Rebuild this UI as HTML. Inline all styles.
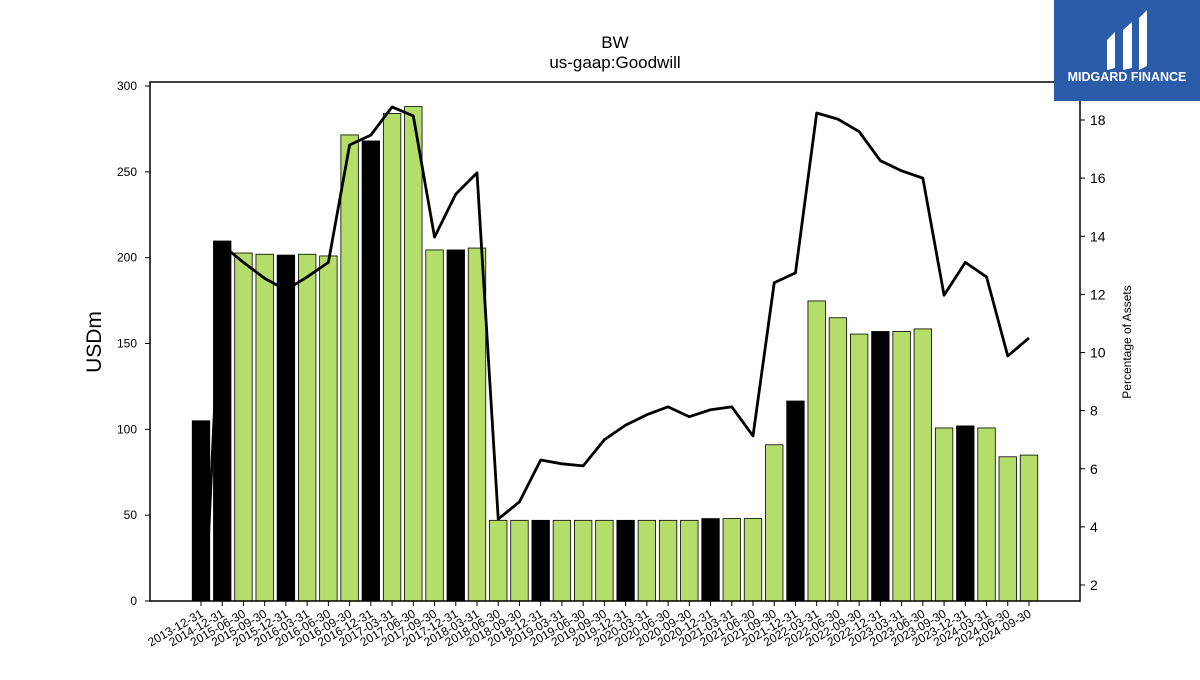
<!DOCTYPE html>
<html><head><meta charset="utf-8"><style>
body{margin:0;background:#fff;}
svg text{font-family:"Liberation Sans","DejaVu Sans",sans-serif;}
</style></head><body>
<svg id="chart" width="1200" height="675" viewBox="0 0 1200 675" xmlns="http://www.w3.org/2000/svg">
<defs><clipPath id="plotclip"><rect x="150" y="82" width="930" height="519"/></clipPath></defs>
<rect width="1200" height="675" fill="#fff"/>
<text x="615" y="48" text-anchor="middle" font-size="17">BW</text>
<text x="615" y="68" text-anchor="middle" font-size="17">us-gaap:Goodwill</text>
<g id="bars"></g>
<g id="line" clip-path="url(#plotclip)"></g>
<rect x="150" y="82" width="930" height="519" fill="none" stroke="#000" stroke-width="1.5"/>
<g id="axes"></g>
<text transform="translate(101,342) rotate(-90)" text-anchor="middle" font-size="21">USDm</text>
<text transform="translate(1131,342) rotate(-90)" text-anchor="middle" font-size="12">Percentage of Assets</text>
<g>
<rect x="1054" y="0" width="146" height="101" fill="#2a5caa"/>
<path d="M1107 40 L1115 32 L1115 68 L1107 70 Z M1123 30 L1132 22 L1132 68 L1123 70 Z M1139 18 L1147 10 L1147 66 L1139 70 Z" fill="#fff"/>
<text x="1127" y="81" text-anchor="middle" font-size="12.5" font-weight="bold" fill="#fff">MIDGARD FINANCE</text>
</g>
</svg>
<script>
const categories=["2013-12-31","2014-12-31","2015-06-30","2015-09-30","2015-12-31","2016-03-31","2016-06-30","2016-09-30","2016-12-31","2017-03-31","2017-06-30","2017-09-30","2017-12-31","2018-03-31","2018-06-30","2018-09-30","2018-12-31","2019-03-31","2019-06-30","2019-09-30","2019-12-31","2020-03-31","2020-06-30","2020-09-30","2020-12-31","2021-03-31","2021-06-30","2021-09-30","2021-12-31","2022-03-31","2022-06-30","2022-09-30","2022-12-31","2023-03-31","2023-06-30","2023-09-30","2023-12-31","2024-03-31","2024-06-30","2024-09-30"];
const goodwill=[105,209.7,202.7,202,201.5,202,201,271.5,268,284,288,204.5,204.5,205.6,47,47,47,47,47,47,47,47,47,47,48,48,48,91,116.5,174.8,165,155.5,157,157,158.5,100.8,102,100.8,84,85];
const pctAssets=[-1.8,13.7,13.1,12.55,12.15,12.6,13.1,17.14,17.48,18.45,18.14,13.97,15.45,16.18,4.27,4.86,6.3,6.17,6.1,7.0,7.5,7.86,8.13,7.79,8.03,8.13,7.13,12.4,12.74,18.24,18.03,17.6,16.6,16.25,16.0,11.97,13.1,12.6,9.88,10.5];
const leftTicks=[0,50,100,150,200,250,300];
const rightTicks=[2,4,6,8,10,12,14,16,18];
const NS="http://www.w3.org/2000/svg";
const xPos=i=>201+i*(1029-201)/(categories.length-1);
const yL=v=>601-v*(515/300);
const yR=v=>585-(v-2)*(465/16);
const isYearEnd=c=>c.endsWith("12-31");
function mk(tag,attrs,parent){const e=document.createElementNS(NS,tag);for(const k in attrs)e.setAttribute(k,attrs[k]);parent.appendChild(e);return e;}
const bars=document.getElementById("bars"),line=document.getElementById("line"),axes=document.getElementById("axes");
const bw=17.5;
goodwill.forEach((v,i)=>{
 const r=mk("rect",{x:xPos(i)-bw/2,y:yL(v),width:bw,height:601-yL(v),fill:isYearEnd(categories[i])?"#000":"#b5dd6a",stroke:"#000","stroke-width":0.8},bars);
 
 
});
const pts=pctAssets.map((v,i)=>xPos(i)+","+yR(v)).join(" ");
const pl=mk("polyline",{points:pts,fill:"none",stroke:"#000","stroke-width":2.8,"stroke-linejoin":"round"},line);


leftTicks.forEach(t=>{
 const y=yL(t);
 mk("line",{x1:145,x2:150,y1:y,y2:y,stroke:"#000"},axes);
 const tx=mk("text",{x:137,y:y+4,"text-anchor":"end","font-size":12},axes);tx.textContent=t;
 
 
});
rightTicks.forEach(t=>{
 const y=yR(t);
 mk("line",{x1:1080,x2:1085,y1:y,y2:y,stroke:"#000"},axes);
 const tx=mk("text",{x:1090,y:y+5,"font-size":14},axes);tx.textContent=t;
 
 
});
categories.forEach((c,i)=>{
 const x=xPos(i);
 mk("line",{x1:x,x2:x,y1:601,y2:606,stroke:"#000"},axes);
 const tx=mk("text",{x:x+3,y:616,"text-anchor":"end","font-size":12,transform:"rotate(-30 "+(x+3)+" 616)"},axes);tx.textContent=c;
 
 
});
</script>
</body></html>
